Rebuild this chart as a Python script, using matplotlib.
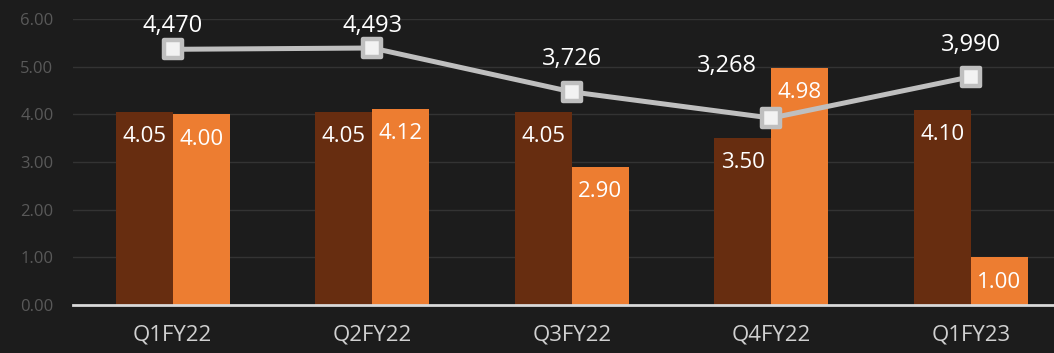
import matplotlib
matplotlib.use("Agg")
import matplotlib.pyplot as plt
from matplotlib.markers import MarkerStyle
import numpy as np

quarters = ["Q1FY22", "Q2FY22", "Q3FY22", "Q4FY22", "Q1FY23"]
series_a = [4.05, 4.05, 4.05, 3.50, 4.10]
series_b = [4.00, 4.12, 2.90, 4.98, 1.00]
line_vals = [4470, 4493, 3726, 3268, 3990]

# pixel offsets of the line labels from their markers
label_offsets = [(0, 17), (0, 16), (0, 27), (-44, 46), (0, 26)]

bg = "#1c1c1c"
brown = "#672d10"
orange = "#ed7d31"
grey = "#bfbfbf"

plt.rcParams["font.family"] = ["Open Sans", "DejaVu Sans"]

fig = plt.figure(figsize=(10.54, 3.53), dpi=100, facecolor=bg)
ax = fig.add_axes([73 / 1054, 48 / 353, 1 - 73 / 1054, 286 / 353])
ax.set_facecolor(bg)

x = np.arange(len(quarters))
w = 0.285
bars_a = ax.bar(x - w / 2, series_a, w, color=brown, zorder=2)
bars_b = ax.bar(x + w / 2, series_b, w, color=orange, zorder=2)

for bars, vals in ((bars_a, series_a), (bars_b, series_b)):
    for b, v in zip(bars, vals):
        ax.text(b.get_x() + b.get_width() / 2, v - 0.3, f"{v:.2f}",
                ha="center", va="top", color="white", fontsize=16, zorder=3)

ax.set_ylim(0, 6)
ax.set_xlim(-0.5, (1054 - 73) / 199.5 - 0.5)
ax.set_yticks(np.arange(0, 7, 1))
ax.set_yticklabels([f"{t:.2f}" for t in range(7)])
ax.tick_params(axis="y", colors="#595959", labelsize=12, length=0, pad=14)
ax.set_xticks(x)
ax.set_xticklabels(quarters)
ax.tick_params(axis="x", colors="#d0d0d0", labelsize=16, length=0, pad=14)
ax.grid(axis="y", color="#333333", linewidth=1, zorder=0)
for s in ("top", "right", "left"):
    ax.spines[s].set_visible(False)
ax.spines["bottom"].set_color("#d9d9d9")
ax.spines["bottom"].set_linewidth(2)
ax.spines["bottom"].set_zorder(4)

ax2 = ax.twinx()
ax2.set_ylim(0, 5000)
ax2.axis("off")
ax2.plot(x, line_vals, color=grey, linewidth=3.6, zorder=5,
         marker=MarkerStyle("s", joinstyle="round"), markersize=12.5,
         markerfacecolor="#f2f2f2", markeredgecolor=grey, markeredgewidth=3.2)
for xi, v, off in zip(x, line_vals, label_offsets):
    ax2.annotate(f"{v:,}", (xi, v), xytext=off, textcoords="offset pixels",
                 ha="center", va="baseline", color="white", fontsize=17)

fig.savefig("out.png", dpi=100, facecolor=bg)
